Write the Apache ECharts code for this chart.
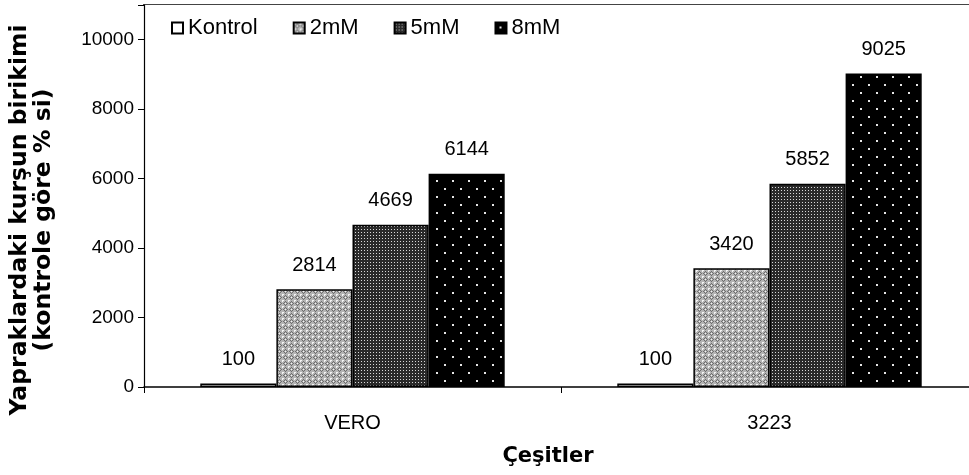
<!DOCTYPE html>
<html>
<head>
<meta charset="utf-8">
<script src="https://cdn.jsdelivr.net/npm/echarts@6/dist/echarts.min.js"></script>
<style>
  html, body { margin: 0; padding: 0; background: #fff; }
  #chart { width: 969px; height: 475px; }
</style>
</head>
<body>
<div id="chart"></div>
<script>
// Lead accumulation in leaves, as % of control, per variety and dose
const categories = ['VERO', '3223'];
const seriesNames = ['Kontrol', '2mM', '5mM', '8mM'];
const kontrol = [100, 100];
const mM2 = [2814, 3420];
const mM5 = [4669, 5852];
const mM8 = [6144, 9025];
const yTicks = [0, 2000, 4000, 6000, 8000, 10000];

// Monochrome fill patterns drawn on small canvas tiles
function tile(w, h, draw) {
  const c = document.createElement('canvas');
  c.width = w; c.height = h;
  const g = c.getContext('2d');
  draw(g);
  return { image: c, repeat: 'repeat' };
}

const patWhite = '#ffffff';

const patLight = tile(6, 6, g => {
  g.fillStyle = '#b4b4b4';
  g.fillRect(0, 0, 6, 6);
  g.fillStyle = '#6e6e6e';
  g.fillRect(3, 1, 1, 1); g.fillRect(2, 2, 1, 1); g.fillRect(4, 2, 1, 1);
  g.fillRect(1, 3, 1, 1); g.fillRect(5, 3, 1, 1);
  g.fillRect(2, 4, 1, 1); g.fillRect(4, 4, 1, 1); g.fillRect(3, 5, 1, 1);
  g.fillStyle = '#f4f4f4';
  g.fillRect(0, 0, 1, 1); g.fillRect(3, 3, 1, 1);
  g.fillRect(1, 0, 1, 1); g.fillRect(0, 1, 1, 1);
});

const patDark = tile(3, 3, g => {
  g.fillStyle = '#2a2a2a';
  g.fillRect(0, 0, 3, 3);
  g.fillStyle = '#d8d8d8';
  g.fillRect(1, 1, 1, 1);
});

const patBlack = tile(16, 16, g => {
  g.fillStyle = '#000000';
  g.fillRect(0, 0, 16, 16);
  g.fillStyle = '#e6e6e6';
  g.fillRect(4, 4, 2, 2);
  g.fillRect(12, 12, 2, 2);
});

const fills = [patWhite, patLight, patDark, patBlack];
const values = [kontrol, mM2, mM5, mM8];

const FONT = '"Liberation Sans", Arial, sans-serif';
const BOLD_FONT = '"DejaVu Sans", "Liberation Sans", sans-serif';

const chart = echarts.init(document.getElementById('chart'), null, { renderer: 'canvas' });

chart.setOption({
  animation: false,
  backgroundColor: '#ffffff',
  textStyle: { fontFamily: FONT, color: '#000' },
  // the plot area runs slightly past the right edge of the page
  grid: {
    left: 144, right: -9, top: 5, bottom: 88,
    containLabel: false,
    outerBoundsMode: 'none'
  },
  legend: {
    left: 166,
    top: 12,
    icon: 'rect',
    itemWidth: 11,
    itemHeight: 11,
    itemGap: 35,
    textStyle: { fontFamily: FONT, fontSize: 22, color: '#000' },
    data: seriesNames
  },
  xAxis: {
    type: 'category',
    data: categories,
    boundaryGap: true,
    name: 'Çeşitler',
    nameLocation: 'middle',
    nameGap: 59,
    nameTextStyle: {
      fontFamily: BOLD_FONT, fontSize: 21, fontWeight: 'bold', color: '#000',
      padding: [0, 26, 0, 0]
    },
    axisLine: { lineStyle: { color: '#000', width: 1.5 } },
    axisTick: { show: true, length: 6, lineStyle: { color: '#000' } },
    axisLabel: { fontFamily: FONT, fontSize: 20, color: '#000', margin: 26 }
  },
  yAxis: {
    type: 'value',
    min: 0,
    max: 11000,
    interval: 2000,
    name: 'Yapraklardaki kurşun birikimi\n(kontrole göre % si)',
    nameLocation: 'middle',
    nameRotate: 90,
    nameGap: 88,
    nameTextStyle: {
      fontFamily: BOLD_FONT, fontSize: 23.5, fontWeight: 'bold', color: '#000', lineHeight: 24,
      padding: [0, 48, 0, 0]
    },
    axisLine: { show: true, lineStyle: { color: '#000', width: 1.2 } },
    axisTick: { show: true, length: 6, lineStyle: { color: '#000' } },
    splitLine: { show: false },
    axisLabel: {
      fontFamily: FONT, fontSize: 19, color: '#000', margin: 10,
      formatter: v => (yTicks.indexOf(v) >= 0 ? String(v) : '')
    }
  },
  graphic: [
    { type: 'line', shape: { x1: 143, y1: 4.5, x2: 969, y2: 4.5 }, style: { stroke: '#444', lineWidth: 1.2 }, silent: true }
  ],
  series: seriesNames.map((name, i) => ({
    name,
    type: 'bar',
    data: values[i],
    barGap: '0%',
    barCategoryGap: '27%',
    itemStyle: { color: fills[i], borderColor: '#000', borderWidth: 1.5 },
    label: {
      show: true,
      position: 'top',
      distance: 14,
      fontFamily: FONT,
      fontSize: 20,
      color: '#000'
    }
  }))
});
</script>
</body>
</html>
